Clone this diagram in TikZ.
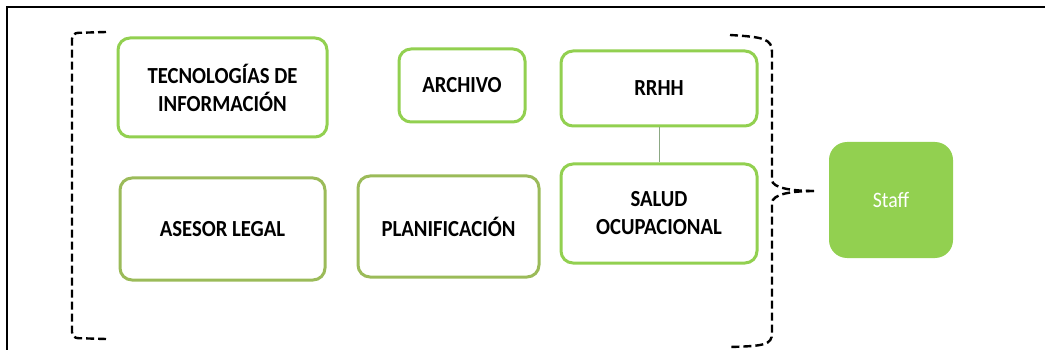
\documentclass[tikz,border=0pt]{standalone}
\usepackage{fontspec}
\newfontfamily\calib[FakeStretch=0.9]{Carlito}
\definecolor{verde}{HTML}{92D050}
\definecolor{oliva}{HTML}{9BBB59}
\definecolor{linea}{HTML}{8CA884}
\begin{document}
\begin{tikzpicture}[x=1pt,y=-1pt,
        caja/.style={draw=verde,line width=3pt,rounded corners=12pt,fill=white,inner sep=0pt,
            align=center,font=\calib\bfseries\fontsize{23}{28}\selectfont},
        cajaosc/.style={caja,draw=oliva},
        llave/.style={black,line width=2.4pt,dash pattern=on 8pt off 4pt}]
        \useasboundingbox (0,0) rectangle (1045,350);
        \draw[line width=1.6pt] (7,350) -- (7,7) -- (1045,7);

        \node[caja,minimum width=209pt,minimum height=99pt] (ti) at (222.5,87.5) {TECNOLOGÍAS DE\\INFORMACIÓN};
        \node[caja,minimum width=126pt,minimum height=73pt] (archivo) at (462,85.5) {ARCHIVO};
        \node[caja,minimum width=196pt,minimum height=75pt] (rrhh) at (659,88.5) {RRHH};
        \node[cajaosc,minimum width=205pt,minimum height=102pt] (legal) at (222.5,229) {ASESOR LEGAL};
        \node[cajaosc,minimum width=181pt,minimum height=101pt] (plan) at (448.5,226.5) {PLANIFICACIÓN};
        \node[caja,minimum width=196pt,minimum height=99pt] (salud) at (659,213.5) {SALUD\\OCUPACIONAL};
        \node[fill=verde,rounded corners=18pt,minimum width=124pt,minimum height=116pt,
            text=white,font=\calib\fontsize{22}{26}\selectfont] (staff) at (891,200) {Staff};

        \draw[linea,line width=1pt] (rrhh) -- (salud);

        % corchete izquierdo
        \draw[llave,rounded corners=6pt] (106,32) -- (72,33) -- (72,338) -- (106,339);
        % llave derecha
        \coordinate (punta) at (814,191);
        \draw[llave] (730,35) .. controls (764,37) and (772,39) .. (772,52) -- (772,180)
            .. controls (772,188) and (792,191) .. (punta);
        \draw[llave] (punta) .. controls (792,191) and (772,194) .. (772,203) -- (772,333)
            .. controls (772,345) and (764,346) .. (730,347);
\end{tikzpicture}
\end{document}
